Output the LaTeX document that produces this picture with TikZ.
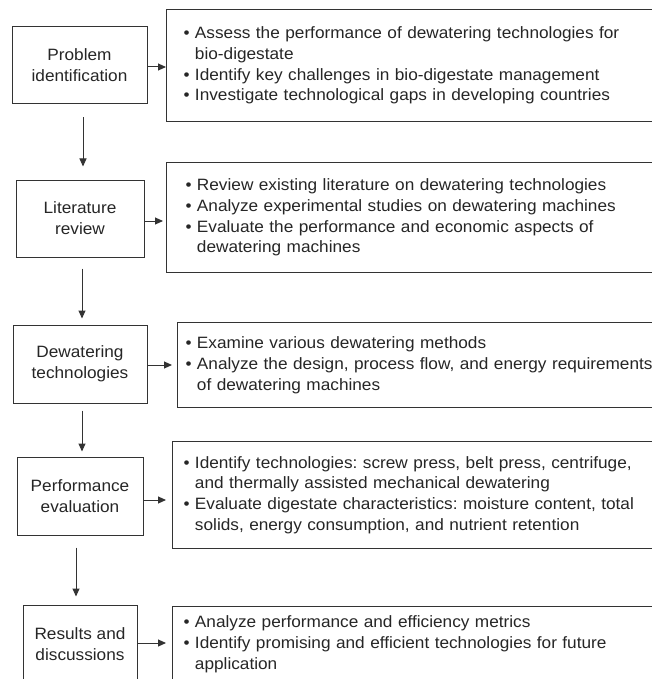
\documentclass[tikz,border=0pt]{standalone}
\usepackage{fontspec}
\setmainfont{Liberation Sans}[FakeStretch=1.05]
\usetikzlibrary{arrows.meta}
\frenchspacing
\definecolor{linec}{HTML}{333333}
\definecolor{textc}{HTML}{262626}
\tikzset{
  base/.style={font=\fontsize{16.4}{20.8}\selectfont\frenchspacing, text=textc},
  lbox/.style={base, draw=linec, line width=1pt, align=center, inner sep=0pt},
  rbox/.style={base, draw=linec, line width=1pt, align=left, text width=500pt, inner ysep=0pt, anchor=north west},
  arr/.style={draw=linec, line width=1pt, -{Triangle[length=8pt,width=7pt]}}
}
\begin{document}
\begin{tikzpicture}[x=1pt, y=-1pt]
\useasboundingbox (0,0) rectangle (652,679);
\fill[white] (0,0) rectangle (652,679);
\clip (0,0) rectangle (652,679);

% left boxes
\node[lbox, minimum width=135pt, minimum height=77pt] (L1) at (79.5,65.5) {Problem\\identification};
\node[lbox, minimum width=128pt, minimum height=77pt] (L2) at (80,218.5) {Literature\\review};
\node[lbox, minimum width=134pt, minimum height=78pt] (L3) at (80,364) {Dewatering\\technologies};
\node[lbox, minimum width=126pt, minimum height=78pt] (L4) at (80,496) {Performance\\evaluation};
\node[lbox, minimum width=114pt, minimum height=78pt] (L5) at (80,644) {Results and\\discussions};

% right boxes
\node[rbox, inner xsep=17pt, minimum height=112pt] (R1) at (166,9) {%
• Assess the performance of dewatering technologies for\\
\phantom{• }bio-digestate\\
• Identify key challenges in bio-digestate management\\
• Investigate technological gaps in developing countries};
\node[rbox, inner xsep=19pt, minimum height=110pt] (R2) at (166,162) {%
• Review existing literature on dewatering technologies\\
• Analyze experimental studies on dewatering machines\\
• Evaluate the performance and economic aspects of\\
\phantom{• }dewatering machines};
\node[rbox, inner xsep=8pt, minimum height=85pt] (R3) at (177,322) {%
• Examine various dewatering methods\\
• Analyze the design, process flow, and energy requirements\\
\phantom{• }of dewatering machines};
\node[rbox, inner xsep=11pt, minimum height=107pt] (R4) at (172,441) {%
• Identify technologies: screw press, belt press, centrifuge,\\
\phantom{• }and thermally assisted mechanical dewatering\\
• Evaluate digestate characteristics: moisture content, total\\
\phantom{• }solids, energy consumption, and nutrient retention};
\node[rbox, inner xsep=11pt, minimum height=76pt] (R5) at (172,606) {%
• Analyze performance and efficiency metrics\\
• Identify promising and efficient technologies for future\\
\phantom{• }application};

% horizontal arrows
\draw[arr] ([shift={(0,1.5)}]L1.east) -- ([shift={(0,1.5)}]L1.east -| R1.west);
\draw[arr, shorten >=3pt] ([shift={(0,2.5)}]L2.east) -- ([shift={(0,2.5)}]L2.east -| R2.west);
\draw[arr, shorten >=5pt] ([shift={(0,1)}]L3.east) -- ([shift={(0,1)}]L3.east -| R3.west);
\draw[arr, shorten >=6pt] ([shift={(0,4)}]L4.east) -- ([shift={(0,4)}]L4.east -| R4.west);
\draw[arr, shorten >=6pt] ([shift={(0,-1)}]L5.east) -- ([shift={(0,-1)}]L5.east -| R5.west);

% vertical arrows
\draw[arr] ([shift={(3.5,13)}]L1.south) -- ([shift={(3,-13)}]L2.north);
\draw[arr] ([shift={(2,11)}]L2.south) -- ([shift={(2,-6)}]L3.north);
\draw[arr] ([shift={(2,7)}]L3.south) -- ([shift={(2,-5)}]L4.north);
\draw[arr] ([shift={(-4,12)}]L4.south) -- ([shift={(-4,-8)}]L5.north);
\end{tikzpicture}
\end{document}
